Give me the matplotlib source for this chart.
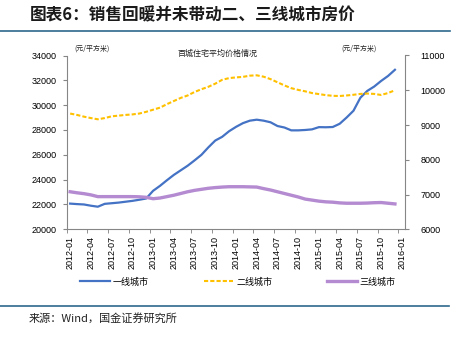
import matplotlib
matplotlib.use("Agg")
import matplotlib.pyplot as plt
from matplotlib.lines import Line2D

plt.rcParams['font.family'] = ['Liberation Sans', 'Noto Sans CJK SC', 'DejaVu Sans']

# ---- data ----
tick_labels = ['2012-01', '2012-04', '2012-07', '2012-10', '2013-01', '2013-04', '2013-07',
               '2013-10', '2014-01', '2014-04', '2014-07', '2014-10', '2015-01', '2015-04',
               '2015-07', '2015-10', '2016-01']
series_names = ['一线城市', '二线城市', '三线城市']

tier1 = [22070, 22030, 22000, 21900, 21820, 22050, 22100, 22150, 22220, 22290, 22380, 22480,
         23100, 23500, 23950, 24380, 24750, 25120, 25550, 26000, 26600, 27150, 27450, 27900,
         28250, 28550, 28750, 28830, 28750, 28620, 28320, 28200, 27970, 27970, 28000, 28050,
         28230, 28220, 28240, 28500, 29000, 29550, 30600, 31150, 31500, 31950, 32350, 32850]
tier2 = [9330, 9290, 9240, 9200, 9165, 9200, 9250, 9270, 9290, 9305, 9330, 9380,
         9440, 9500, 9600, 9690, 9780, 9850, 9950, 10030, 10100, 10190, 10300, 10350,
         10370, 10385, 10420, 10430, 10390, 10320, 10230, 10140, 10060, 10010, 9970, 9920,
         9890, 9860, 9840, 9835, 9850, 9870, 9895, 9905, 9895, 9865, 9920, 10000]
tier3 = [7080, 7050, 7025, 6990, 6940, 6940, 6940, 6940, 6940, 6940, 6935, 6920,
         6880, 6900, 6940, 6980, 7030, 7080, 7120, 7150, 7180, 7200, 7215, 7225,
         7225, 7225, 7220, 7215, 7170, 7130, 7080, 7030, 6980, 6930, 6870, 6840,
         6810, 6790, 6780, 6760, 6750, 6750, 6750, 6755, 6765, 6770, 6750, 6730]

left_ticks = [20000, 22000, 24000, 26000, 28000, 30000, 32000, 34000]
right_ticks = [6000, 7000, 8000, 9000, 10000, 11000]

W, H = 468, 339
fig = plt.figure(figsize=(W / 100, H / 100), dpi=100)
fig.patch.set_facecolor('white')

L, R, T, B = 66.7, 405.3, 55.5, 229.3
ax = fig.add_axes([L / W, 1 - B / H, (R - L) / W, (B - T) / H])
ax2 = ax.twinx()

x = list(range(len(tier1)))
blue = '#4472C4'
yellow = '#FFC000'
purple = '#B48AD0'

l1, = ax.plot(x, tier1, color=blue, lw=1.6, solid_joinstyle='round')
l2, = ax2.plot(x, tier2, color=yellow, lw=1.5, ls=(0, (2, 1)))
l3, = ax2.plot(x, tier3, color=purple, lw=2.4, solid_joinstyle='round')

ax.set_xlim(-0.5, 48.5)
ax.set_ylim(20000, 34000)
ax2.set_ylim(6000, 11000)
ax.set_yticks(left_ticks)
ax2.set_yticks(right_ticks)
ax.set_yticklabels([str(v) for v in left_ticks])
ax2.set_yticklabels([str(v) for v in right_ticks])

ax.set_xticks(range(0, 49, 3))
ax.set_xticklabels(tick_labels, rotation=90, fontsize=6.5)
ax.set_xticks([i - 0.5 for i in range(0, 49, 3)], minor=True)
ax.tick_params(axis='x', which='major', length=0, pad=5)
ax.tick_params(axis='x', which='minor', length=3, direction='out', color='#808080')

spine_c = '#868686'
for a in (ax, ax2):
    a.spines['top'].set_visible(False)
    for s in ('left', 'right', 'bottom'):
        a.spines[s].set_color(spine_c)
        a.spines[s].set_linewidth(0.8)
ax.spines['right'].set_visible(False)
ax2.spines['left'].set_visible(False)
ax2.spines['bottom'].set_visible(False)

ax.tick_params(axis='y', length=3, direction='out', color=spine_c, labelsize=6.5, pad=4)
ax2.tick_params(axis='y', length=3, direction='out', color=spine_c, labelsize=6.5, pad=8)

cjk = ['Noto Sans CJK SC', 'DejaVu Sans']
fig.text(92 / W, 1 - 49 / H, '(元/平方米)', fontsize=5, family=cjk, ha='center', va='center', color='#222222')
fig.text(359 / W, 1 - 49 / H, '(元/平方米)', fontsize=5, family=cjk, ha='center', va='center', color='#222222')
fig.text(218 / W, 1 - 53 / H, '百城住宅平均价格情况', fontsize=5.8, family=cjk, ha='center', va='center', color='#222222')

# title & rules
fig.text(30 / W, 1 - 15 / H, '图表6：销售回暖并未带动二、三线城市房价', fontsize=12, family=cjk,
         fontweight='bold', ha='left', va='center', color='#1a1a1a')
rule_c = '#2E6A8E'
fig.add_artist(Line2D([0, 450 / W], [1 - 31 / H, 1 - 31 / H], color=rule_c, lw=1.2, transform=fig.transFigure))
fig.add_artist(Line2D([0, 449 / W], [1 - 305.5 / H, 1 - 305.5 / H], color=rule_c, lw=1.2, transform=fig.transFigure))
fig.text(29 / W, 1 - 318 / H, '来源：Wind，国金证券研究所', fontsize=8, family=cjk, ha='left', va='center', color='#222222')

leg = fig.legend([l1, l2, l3], series_names, loc='center left', bbox_to_anchor=(80 / W, 1 - 282 / H),
                 ncol=3, frameon=False, borderpad=0, borderaxespad=0, handlelength=3.3,
                 handletextpad=0.3, columnspacing=6.1, prop={'family': cjk, 'size': 6.5})

fig.savefig('out.png', dpi=100)
